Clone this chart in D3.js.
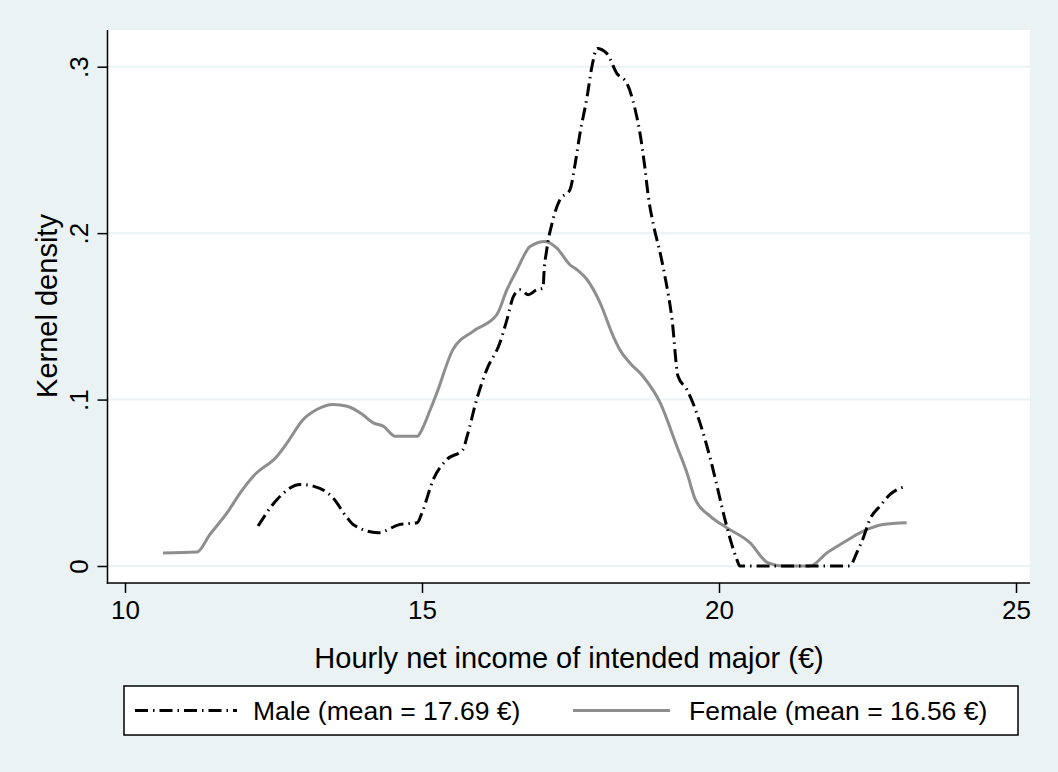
<!DOCTYPE html>
<html><head><meta charset="utf-8">
<script src="https://cdn.jsdelivr.net/npm/d3@7"></script>
<style>html,body{margin:0;padding:0;background:#EAF2F3;}svg{display:block;}text{font-family:"Liberation Sans",Arial,sans-serif;fill:#000;}</style>
</head><body>
<script>
const maleX = [12.24,12.56,12.95,13.17,13.5,13.74,13.84,14.26,14.63,14.92,15.0,15.19,15.42,15.69,15.76,15.92,16.09,16.31,16.43,16.54,16.65,16.79,16.93,17.04,17.05,17.1,17.19,17.32,17.49,17.58,17.66,17.78,17.86,17.95,18.11,18.28,18.45,18.59,18.67,18.75,18.81,18.89,19.01,19.09,19.21,19.31,19.46,19.68,19.85,19.98,20.1,20.19,20.3,20.35,22.2,22.32,22.43,22.54,22.71,22.88,23.16];
const maleY = [.024,.040,.049,.048,.041,.029,.025,.020,.025,.026,.032,.052,.064,.070,.078,.100,.118,.134,.148,.162,.166,.163,.166,.167,.174,.19,.206,.22,.226,.242,.26,.282,.30,.311,.308,.296,.29,.274,.26,.24,.222,.206,.188,.174,.148,.114,.106,.086,.065,.046,.028,.016,.004,0,0,.008,.017,.028,.036,.043,.048];
const femaleX = [10.64,11.21,11.43,11.72,11.94,12.16,12.56,12.73,13.0,13.23,13.5,13.74,14.0,14.18,14.35,14.55,14.93,14.97,15.14,15.25,15.52,15.86,16.26,16.43,16.6,16.82,17.07,17.27,17.49,17.61,17.78,18.0,18.22,18.33,18.5,18.72,19.01,19.29,19.46,19.6,19.85,20.13,20.52,20.82,21.08,21.53,21.82,22.09,22.43,22.76,23.16];
const femaleY = [.0078,.0084,.019,.032,.044,.054,.066,.074,.088,.094,.097,.096,.091,.086,.084,.078,.078,.080,.094,.104,.130,.141,.151,.166,.178,.192,.195,.191,.181,.178,.172,.158,.138,.130,.122,.114,.098,.072,.056,.040,.030,.023,.014,.002,0,0,.008,.014,.021,.025,.026];
const xTicks = [10,15,20,25];
const yTicks = [0,.1,.2,.3];
const yTickLabels = ["0",".1",".2",".3"];
const legendLabels = ["Male (mean = 17.69 €)","Female (mean = 16.56 €)"];
const xTitle = "Hourly net income of intended major (€)";
const yTitle = "Kernel density";

const W=1058,H=772;
const svg=d3.select("body").append("svg").attr("width",W).attr("height",H);
svg.append("rect").attr("width",W).attr("height",H).attr("fill","#EAF2F3");
const L=107.5,R=1030,T=30,B=583;
svg.append("rect").attr("x",L).attr("y",T).attr("width",R-L).attr("height",B-T).attr("fill","#fff");
const x=d3.scaleLinear().domain([10,25]).range([125,1016]);
const y=d3.scaleLinear().domain([0,.3]).range([566,66.7]);
// gridlines
svg.append("g").selectAll("line").data(yTicks).join("line")
 .attr("x1",L).attr("x2",R).attr("y1",d=>y(d)).attr("y2",d=>y(d))
 .attr("stroke","#EAF2F3").attr("stroke-width",2);
// axes
const yAxis=d3.axisLeft(y).tickValues(yTicks).tickFormat((d,i)=>yTickLabels[i]).tickSize(10).tickPadding(9);
const gy=svg.append("g").attr("transform",`translate(${L},0)`).call(yAxis);
gy.select(".domain").remove();
gy.selectAll(".tick line").attr("stroke","#000").attr("stroke-width",1.5);
gy.selectAll(".tick text").attr("font-size",26).attr("text-anchor","middle")
 .attr("x",0).attr("y",0).attr("dy",0)
 .attr("transform","translate(-20,0) rotate(-90)");
const xAxis=d3.axisBottom(x).tickValues(xTicks).tickSize(10).tickPadding(8);
const gx=svg.append("g").attr("transform",`translate(0,${B})`).call(xAxis);
gx.select(".domain").remove();
gx.selectAll(".tick line").attr("stroke","#000").attr("stroke-width",1.5);
gx.selectAll(".tick text").attr("font-size",26);
svg.append("line").attr("x1",L).attr("x2",L).attr("y1",T).attr("y2",B+0.75).attr("stroke","#000").attr("stroke-width",1.5);
svg.append("line").attr("x1",L-0.75).attr("x2",R).attr("y1",B).attr("y2",B).attr("stroke","#000").attr("stroke-width",1.5);
// titles
svg.append("text").attr("x",569).attr("y",668).attr("text-anchor","middle").attr("font-size",29).text(xTitle);
svg.append("text").attr("transform",`translate(57,${306}) rotate(-90)`).attr("text-anchor","middle").attr("font-size",29).text(yTitle);
// curves
const line=d3.line().x(d=>x(d[0])).y(d=>y(d[1])).curve(d3.curveMonotoneX);
const male=maleX.map((v,i)=>[v,maleY[i]]);
const female=femaleX.map((v,i)=>[v,femaleY[i]]);
svg.append("path").attr("d",line(female)).attr("fill","none").attr("stroke","#8e8e8e").attr("stroke-width",3).attr("stroke-linejoin","round");
svg.append("path").attr("d",line(male)).attr("fill","none").attr("stroke","#000").attr("stroke-width",3).attr("stroke-dasharray","13,5,1.5,5");
// legend
const lg=svg.append("g");
lg.append("rect").attr("x",124).attr("y",686).attr("width",894).attr("height",49).attr("fill","#fff").attr("stroke","#000").attr("stroke-width",1.5);
lg.append("line").attr("x1",135).attr("x2",237).attr("y1",710.5).attr("y2",710.5).attr("stroke","#000").attr("stroke-width",3).attr("stroke-dasharray","13,5,1.5,5");
lg.append("text").attr("x",253).attr("y",720).attr("font-size",26.5).text(legendLabels[0]);
lg.append("line").attr("x1",573).attr("x2",670).attr("y1",710.5).attr("y2",710.5).attr("stroke","#8e8e8e").attr("stroke-width",3);
lg.append("text").attr("x",689).attr("y",720).attr("font-size",26.5).text(legendLabels[1]);
</script>
</body></html>
